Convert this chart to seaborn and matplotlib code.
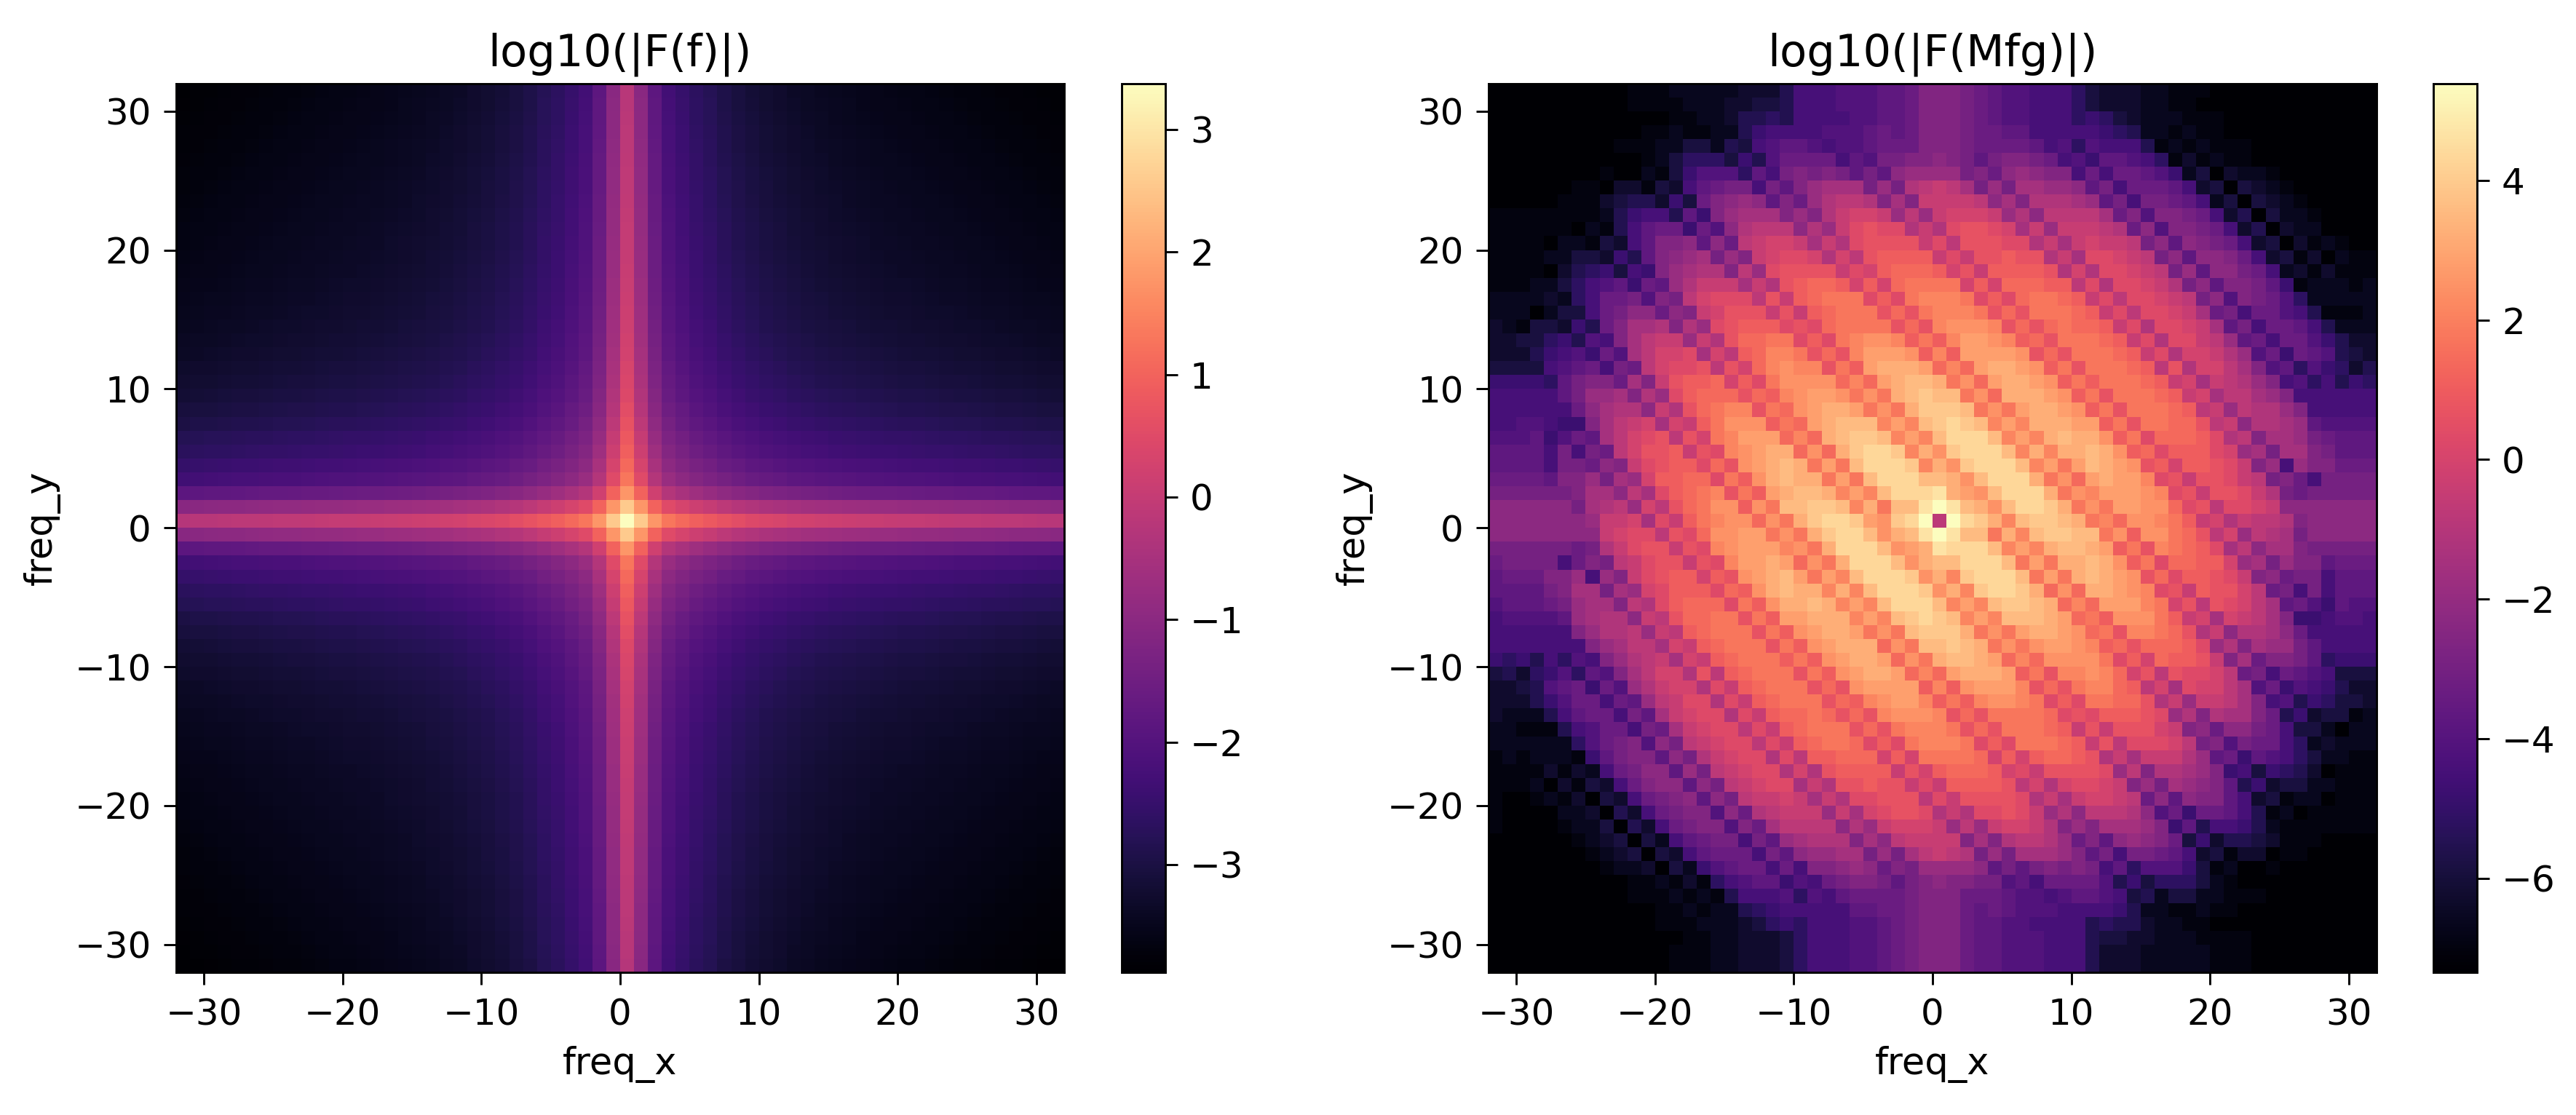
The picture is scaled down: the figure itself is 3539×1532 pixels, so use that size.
import numpy as np
import matplotlib
matplotlib.use("Agg")
import matplotlib.pyplot as plt
import seaborn as sns

W, H, DPI = 3539, 1532, 350

AXIS_TICKS = [-30, -20, -10, 0, 10, 20, 30]
LEFT_CBAR_TICKS = [-3, -2, -1, 0, 1, 2, 3]
RIGHT_CBAR_TICKS = [-6, -4, -2, 0, 2, 4]
LEFT_RANGE = (-3.88, 3.377)
RIGHT_RANGE = (-7.35, 5.39)

# Left panel: the picture is a cross, so it is kept as the brightness drop
# (in log10 units) per cell distance 0..32 from the peak.
LEFT_DROP = [0.00, 0.80, 1.60, 2.07, 2.27, 2.45, 2.57, 2.72, 2.83, 2.92, 3.00,
             3.06, 3.12, 3.17, 3.21, 3.25, 3.28, 3.31, 3.34, 3.36, 3.38,
             3.40, 3.42, 3.44, 3.46, 3.48, 3.50, 3.52, 3.54, 3.56, 3.58,
             3.60, 3.63]

# Right panel: cell levels, one char per cell
# (0..9a..z = 36 steps along the colour scale), rows freq_y = 31 down to 0.
# The lower half of the picture is the point mirror of these rows.
RIGHT_ROWS = [
    "0000000000111222223335" "888999aabdddcba998886" "433322111000000000000",
    "0000000000111122233445" "888999aabdddcba998886" "433322110000000000000",
    "0000000000000112235565" "888899aabdddcba998886" "764322211100000000000",
    "0000000000011211225788" "88999ababdddcbbaa8888" "876522121100000000000",
    "000000000111224425489a" "a9899abbbdddcbbbba896" "988851212111000000000",
    "0000000000012466647 59b".replace(" ", "") + "bbb8a9ccddedcacddcb89" "7aa986131211000000000",
    "0000000010021479996a8c" "dcdcacaeffffcdbefedd8" "b8bba9724032210000000",
    "000000110331438abcc8ca" "dfgggcfchijigcfcggffe" "ac8bbba83404321000000",
    "0000011134553 74bdefead".replace(" ", "") + "bfhiihdgdjjjjiegdhhhg" "fac8ccba824043 2100000".replace(" ", ""),
    "1111111125788 5a7dfgggd".replace(" ", "") + "fdhjkkjfifjkkkjfheiii" "igbd9ddcb835042210000",
    "1111110215 8abb7b9ehiii".replace(" ", "") + "ehfjlmllhjhlmmlkgjfjj" "jihbe9ddcb83503220000",
    "1111022143 8addeaebijkk".replace(" ", "") + "jgjhlmmmmjlimmmllhjgj" "kjjiceaedcb8340312100",
    "1111224437 5adefgcfdjkl".replace(" ", "") + "lkhkimnnnnjljmmnmmhjg" "llkjiceaeedb834130211",
    "1111035674 87dfghhdiflm".replace(" ", "") + "mmmjlknooonkmjnnnnmhk" "hllkjicfaeecb82313111",
    "1112246 89a7bafhjjjgjhm".replace(" ", "") + "noonknkoppppknkooonni" "lhllkjhceaddca7122212",
    "22223268bbc9dciklllimj" "noppplnlpqqqplnloppon" "jlillkjice9dcb9622222",
    "22202448bceebedjkmmmjm" "jnopppmompqqqpmompppo" "njlillkjgbc8bb9851112",
    "32144375bdgghdhflmnnnl" "mloppppmomqrrrqmomopo" "onjlhllkjgac8bba85222",
    "334467598dgijjfjhmoopp" "lnlpqrrqnpnqssrqnompp" "ponjlhlljifab8bb97533",
    "33357897b9gikklgkinoqq" "pmomqsssrnqnssssrmomp" "pponjlhkkjhf9b7ba9543",
    "444489ab8cbikllmimkoqr" "qqmpnstttsoqosttsrnpm" "ppponimhkkigd9a697635",
    "77776acddbgdjmnnoknlpr" "rrroqostuutprosttsrnp" "nppponjkgjihfd8968576",
    "88888acffgdhflnooomonq" "rssrprptuvuuprotttsrn" "pmppponjkgiigfd888888",
    "888888beghhejhmopqqmpo" "rsttsprptvvvuprpsttsr" "npmppponijfihhfd88888",
    "8899877dgijkgkjnprrrnp" "ostuuuqsquvwvuqsqttts" "snpmppoomijehhgfa9999",
    "999a79bagiklmimkpqssso" "qotuvvuqsquwwwuqsqtut" "trnplooonlhidggfcbaaa",
    "aaaa8c8cbikmmnjmlqrstt" "orotvwwvqtrvwwwuqtqtt" "utrnolnnnlkfgcggdcaaa",
    "aaaa8ccbedjlmnnlomrstu" "tpspuwwwvqtrvwwwuqsps" "utsrmnknnmljdf8fddbbb",
    "bbbbaddfcgfknnoolpnrtu" "ttpspuwwwuutruwwwtpro" "stssqlmjmmljicdb8cccc",
    "ccccccdggeiglnopqmpnst" "uutqsquwwwxtsruwwwtpr" "qsssrqlmjmmljhcbccccc",
    "eeeeeecghifkimoprrnrpu" "uvvuqtpuuxzxutruwwvtp" "rpssrrolmillkjeeeeeee",
    "eeeeeeefjjkgljnpqrrorp" "tvwwvsrvwzizwvtquvvut" "pqorrqpnjkhjiihdeeeee",
]
LEVELS = "0123456789abcdefghijklmnopqrstuvwxyz"

TITLES = ["log10(|F(f)|)", "log10(|F(Mfg)|)"]
X_LABEL = "freq_x"
Y_LABEL = "freq_y"


def left_grid():
    drop = np.array(LEFT_DROP)
    dist = np.abs(np.arange(-32, 32))
    return LEFT_RANGE[1] - drop[dist][:, None] - drop[dist][None, :]


def right_grid():
    top = np.array([[LEVELS.index(ch) for ch in row] for row in RIGHT_ROWS], float)
    assert top.shape == (32, 64), top.shape
    grid = np.zeros((64, 64))
    mirror = (64 - np.arange(64)) % 64
    for i in range(32):
        ky = 31 - i
        grid[ky + 32] = top[i]
        if ky > 0:
            grid[32 - ky] = top[i][mirror]
    grid[0] = top[0][mirror]
    lo, hi = RIGHT_RANGE
    return lo + grid / 35.0 * (hi - lo)


def px_axes(fig, x0, x1, y0=114.5, y1=1336.0):
    return fig.add_axes([x0 / W, 1 - y1 / H, (x1 - x0) / W, (y1 - y0) / H])


fig = plt.figure(figsize=(W / DPI, H / DPI), dpi=DPI)

panels = [
    (left_grid(), LEFT_RANGE, LEFT_CBAR_TICKS, (242, 1462), (1541, 1601)),
    (right_grid(), RIGHT_RANGE, RIGHT_CBAR_TICKS, (2045, 3265), (3343, 3403)),
]
for (grid, (vmin, vmax), cticks, ax_x, cb_x), title in zip(panels, TITLES):
    ax = px_axes(fig, *ax_x)
    cax = px_axes(fig, *cb_x)
    sns.heatmap(grid, ax=ax, cbar_ax=cax, cmap="magma", vmin=vmin, vmax=vmax,
                square=False, xticklabels=False, yticklabels=False)
    ax.set_xlim(0, 64)
    ax.set_ylim(0, 64)
    pos = [t + 32 for t in AXIS_TICKS]
    labels = [str(t).replace("-", "\u2212") for t in AXIS_TICKS]
    ax.set_xticks(pos, labels, rotation=0)
    ax.set_yticks(pos, labels, rotation=0)
    ax.tick_params(length=3.5, width=0.6, labelsize=10.3)
    for s in ax.spines.values():
        s.set_visible(True)
        s.set_linewidth(0.6)
        s.set_color("black")
    ax.set_xlabel(X_LABEL, fontsize=10.5)
    ax.set_ylabel(Y_LABEL, fontsize=10.5)
    ax.set_title(title, fontsize=12.5, pad=5)
    cb = ax.collections[0].colorbar
    cb.set_ticks(cticks)
    cb.ax.tick_params(length=3.5, width=0.6, labelsize=10.3)
    cb.outline.set_visible(True)
    cb.outline.set_linewidth(0.6)
    cb.outline.set_edgecolor("black")

fig.savefig("out.png", dpi=DPI)
